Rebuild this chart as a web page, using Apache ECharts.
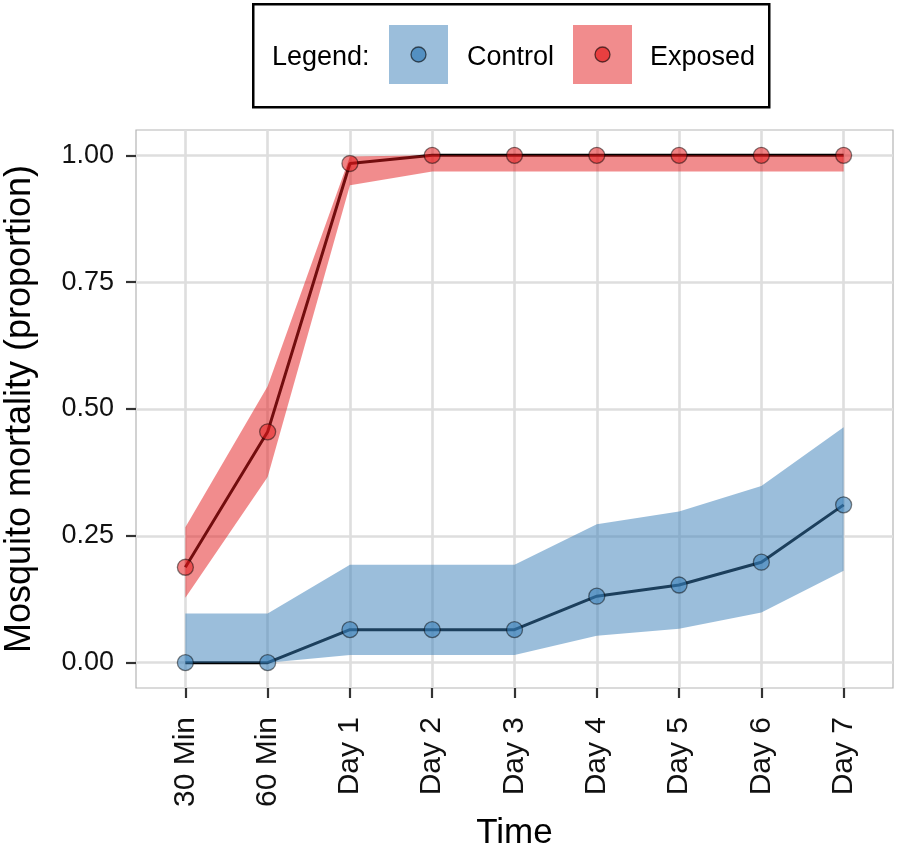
<!DOCTYPE html>
<html>
<head>
<meta charset="utf-8">
<script src="https://cdn.jsdelivr.net/npm/echarts@6/dist/echarts.min.js"></script>
<style>
html,body{margin:0;padding:0;background:#fff;}
#chart{width:898px;height:849px;}
</style>
</head>
<body>
<div id="chart"></div>
<script>
// ---- Data ----
var categories = ['30 Min', '60 Min', 'Day 1', 'Day 2', 'Day 3', 'Day 4', 'Day 5', 'Day 6', 'Day 7'];
var controlMean  = [0.000, 0.000, 0.065, 0.065, 0.065, 0.131, 0.153, 0.198, 0.311];
var controlLower = [0.000, 0.000, 0.015, 0.015, 0.015, 0.053, 0.067, 0.099, 0.181];
var controlUpper = [0.097, 0.097, 0.193, 0.193, 0.193, 0.273, 0.298, 0.348, 0.464];
var exposedMean  = [0.188, 0.455, 0.984, 1.000, 1.000, 1.000, 1.000, 1.000, 1.000];
var exposedLower = [0.128, 0.366, 0.941, 0.968, 0.968, 0.968, 0.968, 0.968, 0.968];
var exposedUpper = [0.267, 0.545, 0.998, 1.000, 1.000, 1.000, 1.000, 1.000, 1.000];
var yTicks = [0, 0.25, 0.5, 0.75, 1.0];
var yTickLabels = ['0.00', '0.25', '0.50', '0.75', '1.00'];

var FONT = 'Arial, "Liberation Sans", sans-serif';

function pairs(arr) { return arr.map(function (v, i) { return [i, v]; }); }

function ribbon(name, lo, hi, color) {
  var data = lo.map(function (v, i) { return [i, v, hi[i]]; });
  return {
    type: 'custom', name: name + ' band', data: data, silent: true, z: 3,
    encode: { x: 0, y: [1, 2] },
    renderItem: function (params, api) {
      if (params.dataIndex !== 0) return null;
      var pts = [];
      for (var i = 0; i < data.length; i++) pts.push(api.coord([data[i][0], data[i][2]]));
      for (var j = data.length - 1; j >= 0; j--) pts.push(api.coord([data[j][0], data[j][1]]));
      return { type: 'polygon', shape: { points: pts }, style: { fill: color } };
    }
  };
}
function meanLine(name, arr) {
  return { type: 'line', name: name, data: pairs(arr), symbol: 'none',
    lineStyle: { color: '#000', width: 3 }, z: 2 };
}
function points(name, arr, fill) {
  return { type: 'scatter', name: name + ' pts', data: pairs(arr), symbolSize: 16,
    itemStyle: { color: fill, borderColor: 'rgba(0,0,0,0.6)', borderWidth: 1.3 }, z: 5 };
}

var series = [].concat(
  [meanLine('Control', controlMean), meanLine('Exposed', exposedMean)],
  [ribbon('Control', controlLower, controlUpper, 'rgba(55,126,184,0.5)'),
   ribbon('Exposed', exposedLower, exposedUpper, 'rgba(228,26,28,0.5)')],
  [points('Control', controlMean, 'rgba(55,126,184,0.72)'), points('Exposed', exposedMean, 'rgba(228,26,28,0.68)')]
);

var xIdx = categories.map(function (c, i) { return i; });

var chart = echarts.init(document.getElementById('chart'), null, { renderer: 'canvas' });
chart.setOption({
  animation: false,
  backgroundColor: '#fff',
  grid: { left: 136, right: 5, top: 130, bottom: 161, show: true, borderColor: '#b5b5b5', borderWidth: 1.2,
    backgroundColor: 'transparent', containLabel: false, outerBoundsMode: 'none' },
  xAxis: {
    type: 'value', min: -0.6, max: 8.6,
    name: 'Time', nameLocation: 'middle', nameGap: 128,
    nameTextStyle: { fontFamily: FONT, fontSize: 35, color: '#000' },
    axisLine: { show: false, onZero: false },
    axisTick: { show: true, length: 10, customValues: xIdx, lineStyle: { color: '#333', width: 2.2 } },
    axisLabel: { customValues: xIdx, rotate: 90, margin: 29, fontFamily: FONT, fontSize: 30, color: '#111',
      formatter: function (v) { return categories[Math.round(v)] || ''; } },
    splitLine: { show: true, lineStyle: { color: '#dedede', width: 2.6 } }
  },
  yAxis: {
    type: 'value', min: -0.05, max: 1.05,
    name: 'Mosquito mortality (proportion)', nameLocation: 'middle', nameGap: 98,
    nameTextStyle: { fontFamily: FONT, fontSize: 36, color: '#000' },
    axisLine: { show: false, onZero: false },
    axisTick: { show: true, length: 10, customValues: yTicks, lineStyle: { color: '#333', width: 2.2 } },
    axisLabel: { customValues: yTicks, margin: 22, fontFamily: FONT, fontSize: 27, color: '#111',
      formatter: function (v) { var i = yTicks.indexOf(v); return i >= 0 ? yTickLabels[i] : v.toFixed(2); } },
    splitLine: { show: true, lineStyle: { color: '#dedede', width: 2.6 } }
  },
  graphic: [
    { type: 'rect', left: 252, top: 3, shape: { width: 516, height: 103 },
      style: { fill: '#fff', stroke: '#000', lineWidth: 2.5 }, z: 10 },
    { type: 'text', left: 272, top: 44, style: { text: 'Legend:', font: '27px ' + FONT, fill: '#000' }, z: 11 },
    { type: 'rect', left: 389, top: 25, shape: { width: 59, height: 59 },
      style: { fill: 'rgba(55,126,184,0.5)' }, z: 11 },
    { type: 'circle', shape: { cx: 418.5, cy: 54.5, r: 7.5 },
      style: { fill: 'rgba(55,126,184,0.72)', stroke: 'rgba(0,0,0,0.6)', lineWidth: 1.3 }, z: 12 },
    { type: 'text', left: 467, top: 44, style: { text: 'Control', font: '27px ' + FONT, fill: '#000' }, z: 11 },
    { type: 'rect', left: 573, top: 25, shape: { width: 59, height: 59 },
      style: { fill: 'rgba(228,26,28,0.5)' }, z: 11 },
    { type: 'circle', shape: { cx: 602.5, cy: 54.5, r: 7.5 },
      style: { fill: 'rgba(228,26,28,0.68)', stroke: 'rgba(0,0,0,0.6)', lineWidth: 1.3 }, z: 12 },
    { type: 'text', left: 650, top: 44, style: { text: 'Exposed', font: '27px ' + FONT, fill: '#000' }, z: 11 }
  ],
  series: series
});
</script>
</body>
</html>
